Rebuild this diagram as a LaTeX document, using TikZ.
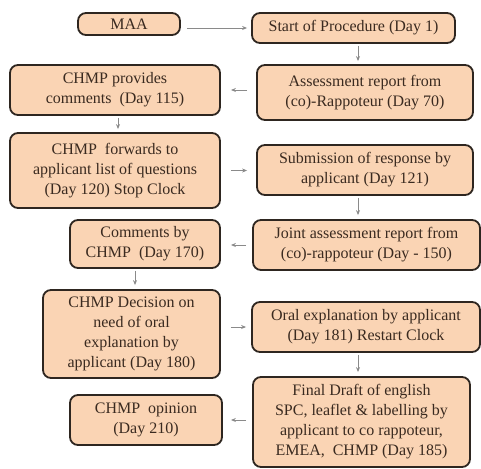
\documentclass[tikz,border=0pt]{standalone}
\usepackage{fontspec}
\setmainfont{Liberation Serif}
\usetikzlibrary{arrows.meta}
\definecolor{peach}{HTML}{FAD4B4}
\definecolor{edge}{HTML}{2E2620}
\definecolor{arrgray}{HTML}{8A8A8A}
\definecolor{txt}{HTML}{3A2A20}
\begin{document}
\begin{tikzpicture}[x=1pt,y=-1pt,
  box/.style={draw=edge, fill=peach, line width=1.8pt, rounded corners=8pt,
    align=center, inner sep=2pt, text=txt, font=\rmfamily\fontsize{16}{20}\selectfont},
  arr/.style={draw=arrgray, line width=0.8pt, -{Stealth[length=5pt,width=4pt]}}]
\useasboundingbox (0,0) rectangle (481,468);
\node[box, minimum width=102pt, minimum height=22pt] (maa) at (129,24) {MAA};
\node[box, minimum width=203pt, minimum height=30pt] (start) at (353.5,28) {Start of Procedure (Day 1)};
\node[box, minimum width=210pt, minimum height=50pt] (prov) at (115,90) {CHMP provides\\comments\ \ (Day 115)};
\node[box, minimum width=216pt, minimum height=55pt] (assess) at (365,92.5) {Assessment report from\\(co)-Rappoteur (Day 70)};
\node[box, minimum width=210pt, minimum height=75pt] (fwd) at (115,170.5) {CHMP\ \ forwards to\\applicant list of questions\\(Day 120) Stop Clock};
\node[box, minimum width=216pt, minimum height=50pt] (sub) at (365,170) {Submission of response by\\applicant (Day 121)};
\node[box, minimum width=150pt, minimum height=48pt] (comm) at (145,244) {Comments by\\CHMP\ \ (Day 170)};
\node[box, minimum width=227pt, minimum height=50pt] (joint) at (366.5,245) {Joint assessment report from\\(co)-rappoteur (Day - 150)};
\node[box, minimum width=177pt, minimum height=88pt] (dec) at (131.5,334) {CHMP Decision on\\need of oral\\explanation by\\applicant (Day 180)};
\node[box, minimum width=228pt, minimum height=50pt] (oral) at (366,327) {Oral explanation by applicant\\(Day 181) Restart Clock};
\node[box, minimum width=152pt, minimum height=50pt] (opin) at (146,420) {CHMP\ \ opinion\\(Day 210)};
\node[box, minimum width=217pt, minimum height=90pt] (final) at (361.5,422) {Final Draft of english\\SPC, leaflet \& labelling by\\applicant to co rappoteur,\\EMEA,\ \ CHMP (Day 185)};
\coordinate (xr) at (358,0);
\coordinate (xl1) at (118,0);
\coordinate (xl2) at (135,0);
\draw[arr, shorten <=6pt, shorten >=4pt] (maa.east |- start.center) -- (start.west);
\draw[arr, shorten <=2pt, shorten >=3pt] (start.south -| xr) -- (assess.north -| xr);
\draw[arr, shorten <=9pt, shorten >=10pt] (assess.west |- prov.center) -- (prov.east);
\draw[arr, shorten <=2pt, shorten >=3pt] (prov.south -| xl1) -- (fwd.north -| xl1);
\draw[arr, shorten <=10pt, shorten >=9pt] (fwd.east) -- (sub.west |- fwd.east);
\draw[arr, shorten <=2pt, shorten >=4pt] (sub.south -| xr) -- (joint.north -| xr);
\draw[arr, shorten <=6pt, shorten >=10pt] (joint.west) -- (comm.east |- joint.west);
\draw[arr, shorten <=2pt, shorten >=4pt] (comm.south -| xl2) -- (dec.north -| xl2);
\draw[arr, shorten <=10pt, shorten >=5pt] (dec.east |- oral.center) -- (oral.west);
\draw[arr, shorten <=2pt, shorten >=4pt] (oral.south -| xr) -- (final.north -| xr);
\draw[arr, shorten <=6pt, shorten >=8pt] (final.west |- opin.center) -- (opin.east);
\end{tikzpicture}
\end{document}
